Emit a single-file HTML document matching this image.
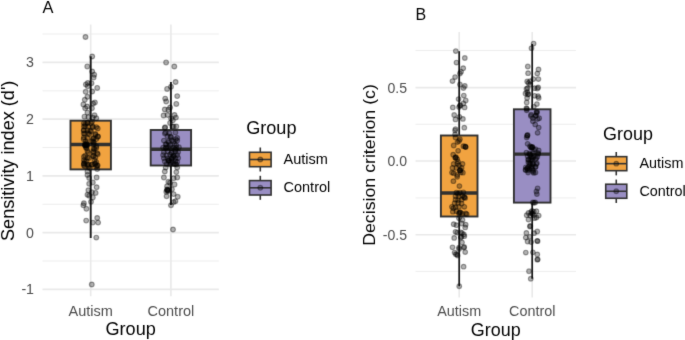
<!DOCTYPE html>
<html><head><meta charset="utf-8"><title>Figure</title>
<style>
html,body{margin:0;padding:0;background:#fff;}
body{width:685px;height:340px;overflow:hidden;}
svg{display:block;font-family:"Liberation Sans",Arial,sans-serif;}
</style></head><body>
<svg width="685" height="340" viewBox="0 0 685 340">
<defs><filter id="soft" x="0" y="0" width="685" height="340" filterUnits="userSpaceOnUse" color-interpolation-filters="sRGB"><feConvolveMatrix order="3" kernelMatrix="0.015 0.07 0.015 0.07 0.6600 0.07 0.015 0.07 0.015" edgeMode="duplicate" preserveAlpha="true"/></filter></defs>
<rect width="685" height="340" fill="#fff"/>
<g filter="url(#soft)">
<rect width="685" height="340" fill="#fff"/>
<g id="panelA">
<line x1="42.5" x2="218.8" y1="34.0" y2="34.0" stroke="#e9e9e9" stroke-width="0.80"/>
<line x1="42.5" x2="218.8" y1="90.8" y2="90.8" stroke="#e9e9e9" stroke-width="0.80"/>
<line x1="42.5" x2="218.8" y1="147.5" y2="147.5" stroke="#e9e9e9" stroke-width="0.80"/>
<line x1="42.5" x2="218.8" y1="204.3" y2="204.3" stroke="#e9e9e9" stroke-width="0.80"/>
<line x1="42.5" x2="218.8" y1="261.0" y2="261.0" stroke="#e9e9e9" stroke-width="0.80"/>
<line x1="42.5" x2="218.8" y1="62.4" y2="62.4" stroke="#e9e9e9" stroke-width="1.60"/>
<line x1="42.5" x2="218.8" y1="119.15" y2="119.15" stroke="#e9e9e9" stroke-width="1.60"/>
<line x1="42.5" x2="218.8" y1="175.9" y2="175.9" stroke="#e9e9e9" stroke-width="1.60"/>
<line x1="42.5" x2="218.8" y1="232.65" y2="232.65" stroke="#e9e9e9" stroke-width="1.60"/>
<line x1="42.5" x2="218.8" y1="289.4" y2="289.4" stroke="#e9e9e9" stroke-width="1.60"/>
<line x1="90.7" x2="90.7" y1="24.5" y2="296.2" stroke="#e9e9e9" stroke-width="1.60"/>
<line x1="170.9" x2="170.9" y1="24.5" y2="296.2" stroke="#e9e9e9" stroke-width="1.60"/>
<line x1="90.7" x2="90.7" y1="56.3" y2="120.7" stroke="#1a1a1a" stroke-width="1.9"/>
<line x1="90.7" x2="90.7" y1="169.4" y2="238" stroke="#1a1a1a" stroke-width="1.9"/>
<rect x="70.5" y="120.7" width="40.4" height="48.70" fill="#f1a340" stroke="#323232" stroke-width="1.9"/>
<line x1="70.5" x2="110.9" y1="144.5" y2="144.5" stroke="#303030" stroke-width="3.4"/>
<line x1="170.9" x2="170.9" y1="82" y2="130" stroke="#1a1a1a" stroke-width="1.9"/>
<line x1="170.9" x2="170.9" y1="165.5" y2="205" stroke="#1a1a1a" stroke-width="1.9"/>
<rect x="150.70000000000002" y="130" width="40.4" height="35.50" fill="#998ec3" stroke="#323232" stroke-width="1.9"/>
<line x1="150.70000000000002" x2="191.1" y1="149.3" y2="149.3" stroke="#303030" stroke-width="3.4"/>
<g fill="#000" fill-opacity="0.3" stroke="#000" stroke-opacity="0.36" stroke-width="1.15">
<circle cx="85.5" cy="37" r="2.40"/>
<circle cx="92.2" cy="56.5" r="2.40"/>
<circle cx="87.3" cy="66.4" r="2.40"/>
<circle cx="92.2" cy="71.5" r="2.40"/>
<circle cx="94.2" cy="74.7" r="2.40"/>
<circle cx="93.6" cy="77.4" r="2.40"/>
<circle cx="87.8" cy="83" r="2.40"/>
<circle cx="85.9" cy="84.4" r="2.40"/>
<circle cx="91.5" cy="83.2" r="2.40"/>
<circle cx="87.8" cy="86.2" r="2.40"/>
<circle cx="97.2" cy="87.9" r="2.40"/>
<circle cx="85.7" cy="91.8" r="2.40"/>
<circle cx="92.2" cy="91.5" r="2.40"/>
<circle cx="87.5" cy="96.8" r="2.40"/>
<circle cx="84.8" cy="99.8" r="2.40"/>
<circle cx="94.9" cy="102.4" r="2.40"/>
<circle cx="93.1" cy="103.5" r="2.40"/>
<circle cx="83.4" cy="104.4" r="2.40"/>
<circle cx="87.1" cy="106.5" r="2.40"/>
<circle cx="85.2" cy="108.2" r="2.40"/>
<circle cx="91.9" cy="108.2" r="2.40"/>
<circle cx="87.5" cy="112.6" r="2.40"/>
<circle cx="94.5" cy="115.3" r="2.40"/>
<circle cx="84.5" cy="116.7" r="2.40"/>
<circle cx="88.4" cy="117.1" r="2.40"/>
<circle cx="92.8" cy="117.6" r="2.40"/>
<circle cx="96.3" cy="118.3" r="2.40"/>
<circle cx="83.9" cy="123.2" r="2.40"/>
<circle cx="87.5" cy="122.9" r="2.40"/>
<circle cx="91" cy="123.2" r="2.40"/>
<circle cx="83.9" cy="126.4" r="2.40"/>
<circle cx="88.4" cy="126.8" r="2.40"/>
<circle cx="92.8" cy="126.4" r="2.40"/>
<circle cx="96.3" cy="127.1" r="2.40"/>
<circle cx="83.9" cy="130.3" r="2.40"/>
<circle cx="87.5" cy="130.3" r="2.40"/>
<circle cx="91" cy="131.2" r="2.40"/>
<circle cx="84.8" cy="133.8" r="2.40"/>
<circle cx="89.2" cy="134.2" r="2.40"/>
<circle cx="95.4" cy="134.7" r="2.40"/>
<circle cx="98" cy="136.5" r="2.40"/>
<circle cx="83.9" cy="137.4" r="2.40"/>
<circle cx="87.5" cy="138.2" r="2.40"/>
<circle cx="93.6" cy="138.2" r="2.40"/>
<circle cx="96.3" cy="139.1" r="2.40"/>
<circle cx="85.7" cy="141.2" r="2.40"/>
<circle cx="91.9" cy="141.2" r="2.40"/>
<circle cx="84.8" cy="144.4" r="2.40"/>
<circle cx="87.5" cy="144.9" r="2.40"/>
<circle cx="93.6" cy="144.4" r="2.40"/>
<circle cx="85.5" cy="145.5" r="2.40"/>
<circle cx="86.5" cy="143.5" r="2.40"/>
<circle cx="86.6" cy="147.9" r="2.40"/>
<circle cx="93.6" cy="148.8" r="2.40"/>
<circle cx="96.3" cy="147.9" r="2.40"/>
<circle cx="87.5" cy="150.9" r="2.40"/>
<circle cx="93.6" cy="152.4" r="2.40"/>
<circle cx="97.2" cy="153.2" r="2.40"/>
<circle cx="83.9" cy="156.8" r="2.40"/>
<circle cx="87.5" cy="157.6" r="2.40"/>
<circle cx="93.6" cy="155.9" r="2.40"/>
<circle cx="95.4" cy="157.6" r="2.40"/>
<circle cx="83.9" cy="160.3" r="2.40"/>
<circle cx="86.6" cy="161.2" r="2.40"/>
<circle cx="94.5" cy="160.3" r="2.40"/>
<circle cx="96.3" cy="162.1" r="2.40"/>
<circle cx="83.9" cy="163.8" r="2.40"/>
<circle cx="87.5" cy="164.7" r="2.40"/>
<circle cx="91.9" cy="164.7" r="2.40"/>
<circle cx="95.4" cy="163.8" r="2.40"/>
<circle cx="97.2" cy="165.6" r="2.40"/>
<circle cx="84.8" cy="166.5" r="2.40"/>
<circle cx="88.4" cy="166.8" r="2.40"/>
<circle cx="96.3" cy="166.5" r="2.40"/>
<circle cx="97.2" cy="169.1" r="2.40"/>
<circle cx="87.5" cy="171.4" r="2.40"/>
<circle cx="87.5" cy="174.9" r="2.40"/>
<circle cx="96.6" cy="177.4" r="2.40"/>
<circle cx="89.2" cy="177.9" r="2.40"/>
<circle cx="92.8" cy="182.4" r="2.40"/>
<circle cx="89.2" cy="183.8" r="2.40"/>
<circle cx="96.6" cy="187.2" r="2.40"/>
<circle cx="88.4" cy="190.3" r="2.40"/>
<circle cx="95.6" cy="192.9" r="2.40"/>
<circle cx="91.9" cy="192.3" r="2.40"/>
<circle cx="87.5" cy="194.7" r="2.40"/>
<circle cx="89.2" cy="195.8" r="2.40"/>
<circle cx="92.8" cy="197.4" r="2.40"/>
<circle cx="91" cy="201.8" r="2.40"/>
<circle cx="83.9" cy="203.2" r="2.40"/>
<circle cx="83.4" cy="205.3" r="2.40"/>
<circle cx="86.4" cy="208.8" r="2.40"/>
<circle cx="97.2" cy="218" r="2.40"/>
<circle cx="86.2" cy="220.6" r="2.40"/>
<circle cx="92.8" cy="222.6" r="2.40"/>
<circle cx="98.1" cy="222.6" r="2.40"/>
<circle cx="96.3" cy="237.6" r="2.40"/>
<circle cx="91.75" cy="284.5" r="2.40"/>
<circle cx="166.1" cy="62.4" r="2.40"/>
<circle cx="174.3" cy="66.5" r="2.40"/>
<circle cx="175.6" cy="82" r="2.40"/>
<circle cx="171" cy="86.8" r="2.40"/>
<circle cx="167.1" cy="88.9" r="2.40"/>
<circle cx="177.2" cy="96.1" r="2.40"/>
<circle cx="165.2" cy="98.6" r="2.40"/>
<circle cx="166.2" cy="101.4" r="2.40"/>
<circle cx="176.3" cy="103.9" r="2.40"/>
<circle cx="170.1" cy="107.5" r="2.40"/>
<circle cx="164.8" cy="109.5" r="2.40"/>
<circle cx="168.4" cy="109.7" r="2.40"/>
<circle cx="163.6" cy="115.5" r="2.40"/>
<circle cx="167.5" cy="115" r="2.40"/>
<circle cx="174.5" cy="115" r="2.40"/>
<circle cx="175.9" cy="117.6" r="2.40"/>
<circle cx="172.8" cy="120.3" r="2.40"/>
<circle cx="170.1" cy="122.9" r="2.40"/>
<circle cx="176.3" cy="126.5" r="2.40"/>
<circle cx="164.8" cy="127.9" r="2.40"/>
<circle cx="173.6" cy="126.5" r="2.40"/>
<circle cx="165.7" cy="132.6" r="2.40"/>
<circle cx="169.2" cy="133.2" r="2.40"/>
<circle cx="175.4" cy="132.6" r="2.40"/>
<circle cx="167.5" cy="136.2" r="2.40"/>
<circle cx="171" cy="137.1" r="2.40"/>
<circle cx="177.2" cy="137.9" r="2.40"/>
<circle cx="163.9" cy="140.6" r="2.40"/>
<circle cx="168.4" cy="141.5" r="2.40"/>
<circle cx="173.6" cy="141.5" r="2.40"/>
<circle cx="177.2" cy="140.6" r="2.40"/>
<circle cx="165.7" cy="144.1" r="2.40"/>
<circle cx="170.1" cy="145" r="2.40"/>
<circle cx="174.5" cy="144.1" r="2.40"/>
<circle cx="163.1" cy="147.6" r="2.40"/>
<circle cx="165.7" cy="148" r="2.40"/>
<circle cx="168.4" cy="147.6" r="2.40"/>
<circle cx="171" cy="148" r="2.40"/>
<circle cx="173.6" cy="147.6" r="2.40"/>
<circle cx="176.3" cy="148" r="2.40"/>
<circle cx="178.9" cy="147.3" r="2.40"/>
<circle cx="163.9" cy="152.1" r="2.40"/>
<circle cx="167.5" cy="151.2" r="2.40"/>
<circle cx="171.9" cy="152.6" r="2.40"/>
<circle cx="175.4" cy="151.5" r="2.40"/>
<circle cx="178.1" cy="152.1" r="2.40"/>
<circle cx="163.1" cy="155.1" r="2.40"/>
<circle cx="166.6" cy="155.6" r="2.40"/>
<circle cx="170.1" cy="154.7" r="2.40"/>
<circle cx="173.6" cy="155.6" r="2.40"/>
<circle cx="177.2" cy="155.1" r="2.40"/>
<circle cx="163.9" cy="158.2" r="2.40"/>
<circle cx="167.5" cy="158.6" r="2.40"/>
<circle cx="171.9" cy="158.2" r="2.40"/>
<circle cx="175.4" cy="158.2" r="2.40"/>
<circle cx="178.1" cy="157.9" r="2.40"/>
<circle cx="164.8" cy="161.5" r="2.40"/>
<circle cx="168.4" cy="161" r="2.40"/>
<circle cx="171.9" cy="161.8" r="2.40"/>
<circle cx="175.4" cy="161.2" r="2.40"/>
<circle cx="177.2" cy="162" r="2.40"/>
<circle cx="166.6" cy="164" r="2.40"/>
<circle cx="170.1" cy="164.5" r="2.40"/>
<circle cx="173.6" cy="164" r="2.40"/>
<circle cx="176.3" cy="164.5" r="2.40"/>
<circle cx="172.8" cy="157" r="2.40"/>
<circle cx="173.6" cy="156" r="2.40"/>
<circle cx="171.5" cy="158.9" r="2.40"/>
<circle cx="165.7" cy="167.6" r="2.40"/>
<circle cx="177.2" cy="167.6" r="2.40"/>
<circle cx="164.8" cy="171.5" r="2.40"/>
<circle cx="176.3" cy="172.1" r="2.40"/>
<circle cx="163.9" cy="177.4" r="2.40"/>
<circle cx="177.2" cy="177.4" r="2.40"/>
<circle cx="173.6" cy="178.2" r="2.40"/>
<circle cx="168.4" cy="181.8" r="2.40"/>
<circle cx="170.1" cy="182.6" r="2.40"/>
<circle cx="174.5" cy="184.4" r="2.40"/>
<circle cx="167.1" cy="186.2" r="2.40"/>
<circle cx="167.5" cy="190.2" r="2.40"/>
<circle cx="168.4" cy="190.9" r="2.40"/>
<circle cx="167" cy="189.5" r="2.40"/>
<circle cx="171.9" cy="189.2" r="2.40"/>
<circle cx="173.6" cy="194.1" r="2.40"/>
<circle cx="166.6" cy="196.2" r="2.40"/>
<circle cx="177.7" cy="196.8" r="2.40"/>
<circle cx="175.4" cy="201.2" r="2.40"/>
<circle cx="173.6" cy="202.1" r="2.40"/>
<circle cx="171" cy="205.2" r="2.40"/>
<circle cx="173" cy="229.5" r="2.40"/>
<circle cx="85.2" cy="124.1" r="2.40"/>
<circle cx="87.5" cy="122.7" r="2.40"/>
<circle cx="92.0" cy="121.7" r="2.40"/>
<circle cx="85.1" cy="126.2" r="2.40"/>
<circle cx="92.6" cy="127.2" r="2.40"/>
<circle cx="97.7" cy="128.5" r="2.40"/>
<circle cx="83.7" cy="130.4" r="2.40"/>
<circle cx="90.0" cy="130.9" r="2.40"/>
<circle cx="83.8" cy="133.6" r="2.40"/>
<circle cx="88.2" cy="133.2" r="2.40"/>
<circle cx="95.3" cy="133.9" r="2.40"/>
<circle cx="97.7" cy="136.7" r="2.40"/>
<circle cx="83.7" cy="139.2" r="2.40"/>
<circle cx="93.0" cy="139.0" r="2.40"/>
<circle cx="93.1" cy="141.8" r="2.40"/>
<circle cx="85.1" cy="145.8" r="2.40"/>
<circle cx="93.9" cy="142.7" r="2.40"/>
<circle cx="86.6" cy="145.2" r="2.40"/>
<circle cx="86.7" cy="144.2" r="2.40"/>
<circle cx="86.1" cy="147.7" r="2.40"/>
<circle cx="94.6" cy="148.9" r="2.40"/>
<circle cx="96.3" cy="146.2" r="2.40"/>
<circle cx="88.2" cy="152.6" r="2.40"/>
<circle cx="93.2" cy="151.2" r="2.40"/>
<circle cx="97.7" cy="154.2" r="2.40"/>
<circle cx="85.2" cy="155.8" r="2.40"/>
<circle cx="89.1" cy="157.9" r="2.40"/>
<circle cx="92.8" cy="156.1" r="2.40"/>
<circle cx="84.9" cy="161.5" r="2.40"/>
<circle cx="84.1" cy="163.5" r="2.40"/>
<circle cx="88.8" cy="165.0" r="2.40"/>
<circle cx="91.9" cy="164.6" r="2.40"/>
<circle cx="94.8" cy="163.9" r="2.40"/>
<circle cx="97.6" cy="165.4" r="2.40"/>
<circle cx="83.8" cy="165.3" r="2.40"/>
<circle cx="89.7" cy="167.9" r="2.40"/>
<circle cx="171.1" cy="118.6" r="2.40"/>
<circle cx="165.2" cy="127.3" r="2.40"/>
<circle cx="172.4" cy="126.6" r="2.40"/>
<circle cx="164.9" cy="133.4" r="2.40"/>
<circle cx="170.6" cy="136.8" r="2.40"/>
<circle cx="175.8" cy="139.3" r="2.40"/>
<circle cx="168.8" cy="142.6" r="2.40"/>
<circle cx="171.9" cy="140.2" r="2.40"/>
<circle cx="166.4" cy="144.7" r="2.40"/>
<circle cx="176.2" cy="145.2" r="2.40"/>
<circle cx="166.2" cy="147.6" r="2.40"/>
<circle cx="175.6" cy="149.7" r="2.40"/>
<circle cx="171.5" cy="153.0" r="2.40"/>
<circle cx="168.8" cy="160.3" r="2.40"/>
<circle cx="169.0" cy="160.8" r="2.40"/>
<circle cx="170.5" cy="162.4" r="2.40"/>
<circle cx="175.2" cy="163.9" r="2.40"/>
<circle cx="166.3" cy="191.7" r="2.40"/>
<circle cx="167.3" cy="190.4" r="2.40"/>
<circle cx="168.0" cy="189.8" r="2.40"/>
<circle cx="85.2" cy="144.8" r="2.40"/>
<circle cx="86.0" cy="145.6" r="2.40"/>
</g>
<g class="g" font-size="14.50" fill="#4d4d4d">
<text x="34.0" y="67.35" text-anchor="end" font-size="14.20">3</text>
<text x="34.0" y="124.10" text-anchor="end" font-size="14.20">2</text>
<text x="34.0" y="180.85" text-anchor="end" font-size="14.20">1</text>
<text x="34.0" y="237.60" text-anchor="end" font-size="14.20">0</text>
<text x="34.0" y="294.35" text-anchor="end" font-size="14.20">-1</text>
<text x="90.7" y="316.0" text-anchor="middle">Autism</text>
<text x="170.9" y="316.0" text-anchor="middle">Control</text>
</g>
<g class="k" font-size="18.10" fill="#000">
<text x="130.65" y="335.2" text-anchor="middle">Group</text>
<text transform="translate(13.5,160.8) rotate(-90) scale(1,1)" text-anchor="middle" font-size="18.1">Sensitivity index (d')</text>
<text x="246.2" y="134.2">Group</text>
</g>
<text class="k" x="42.5" y="13" font-size="16.40" fill="#000">A</text>
<line x1="260.30" x2="260.30" y1="147.50" y2="171.50" stroke="#333" stroke-width="1.6"/>
<rect x="249.50" y="152.30" width="21.60" height="14.40" fill="#f1a340" stroke="#333" stroke-width="1.6"/>
<line x1="249.50" x2="271.10" y1="159.50" y2="159.50" stroke="#333" stroke-width="1.6"/>
<circle cx="260.30" cy="159.50" r="2.40" fill="#000" fill-opacity="0.3" stroke="#000" stroke-opacity="0.36" stroke-width="1.15"/>
<text class="k" x="283.50" y="164.10" font-size="14.50" fill="#000">Autism</text>
<line x1="260.30" x2="260.30" y1="175.80" y2="199.80" stroke="#333" stroke-width="1.6"/>
<rect x="249.50" y="180.60" width="21.60" height="14.40" fill="#998ec3" stroke="#333" stroke-width="1.6"/>
<line x1="249.50" x2="271.10" y1="187.80" y2="187.80" stroke="#333" stroke-width="1.6"/>
<circle cx="260.30" cy="187.80" r="2.40" fill="#000" fill-opacity="0.3" stroke="#000" stroke-opacity="0.36" stroke-width="1.15"/>
<text class="k" x="283.50" y="192.40" font-size="14.50" fill="#000">Control</text>
</g>
<g id="panelB">
<line x1="415.5" x2="576" y1="50.5" y2="50.5" stroke="#e9e9e9" stroke-width="0.78"/>
<line x1="415.5" x2="576" y1="124.3" y2="124.3" stroke="#e9e9e9" stroke-width="0.78"/>
<line x1="415.5" x2="576" y1="197.9" y2="197.9" stroke="#e9e9e9" stroke-width="0.78"/>
<line x1="415.5" x2="576" y1="271.4" y2="271.4" stroke="#e9e9e9" stroke-width="0.78"/>
<line x1="415.5" x2="576" y1="87.6" y2="87.6" stroke="#e9e9e9" stroke-width="1.56"/>
<line x1="415.5" x2="576" y1="161.05" y2="161.05" stroke="#e9e9e9" stroke-width="1.56"/>
<line x1="415.5" x2="576" y1="234.7" y2="234.7" stroke="#e9e9e9" stroke-width="1.56"/>
<line x1="459.2" x2="459.2" y1="32" y2="297.5" stroke="#e9e9e9" stroke-width="1.56"/>
<line x1="532.2" x2="532.2" y1="32" y2="297.5" stroke="#e9e9e9" stroke-width="1.56"/>
<line x1="459.2" x2="459.2" y1="51.2" y2="135.5" stroke="#1a1a1a" stroke-width="1.75"/>
<line x1="459.2" x2="459.2" y1="216.5" y2="286.2" stroke="#1a1a1a" stroke-width="1.75"/>
<rect x="440.9" y="135.5" width="36.6" height="81.00" fill="#f1a340" stroke="#323232" stroke-width="1.9"/>
<line x1="440.9" x2="477.5" y1="193" y2="193" stroke="#303030" stroke-width="3.4"/>
<line x1="532.2" x2="532.2" y1="44" y2="109.3" stroke="#1a1a1a" stroke-width="1.75"/>
<line x1="532.2" x2="532.2" y1="202.6" y2="278.7" stroke="#1a1a1a" stroke-width="1.75"/>
<rect x="513.9000000000001" y="109.3" width="36.6" height="93.30" fill="#998ec3" stroke="#323232" stroke-width="1.9"/>
<line x1="513.9000000000001" x2="550.5" y1="154.1" y2="154.1" stroke="#303030" stroke-width="3.4"/>
<g fill="#000" fill-opacity="0.3" stroke="#000" stroke-opacity="0.36" stroke-width="1.15">
<circle cx="455.8" cy="51.1" r="2.34"/>
<circle cx="464.8" cy="58" r="2.34"/>
<circle cx="456.5" cy="62.6" r="2.34"/>
<circle cx="463.2" cy="68.2" r="2.34"/>
<circle cx="461.1" cy="71.8" r="2.34"/>
<circle cx="459.9" cy="73.5" r="2.34"/>
<circle cx="455.1" cy="77.1" r="2.34"/>
<circle cx="452.5" cy="81.1" r="2.34"/>
<circle cx="459.9" cy="84.5" r="2.34"/>
<circle cx="464.8" cy="85.9" r="2.34"/>
<circle cx="463.4" cy="88" r="2.34"/>
<circle cx="463.8" cy="95.6" r="2.34"/>
<circle cx="458.6" cy="99.1" r="2.34"/>
<circle cx="465.7" cy="100.5" r="2.34"/>
<circle cx="463.4" cy="103.5" r="2.34"/>
<circle cx="459.9" cy="105.8" r="2.34"/>
<circle cx="460.3" cy="105.2" r="2.34"/>
<circle cx="459" cy="107.1" r="2.34"/>
<circle cx="452.8" cy="107.4" r="2.34"/>
<circle cx="464.6" cy="107.4" r="2.34"/>
<circle cx="454.2" cy="115" r="2.34"/>
<circle cx="459.4" cy="116.8" r="2.34"/>
<circle cx="462.9" cy="118.9" r="2.34"/>
<circle cx="455.5" cy="119.4" r="2.34"/>
<circle cx="464.3" cy="127.7" r="2.34"/>
<circle cx="455.5" cy="129.1" r="2.34"/>
<circle cx="455.1" cy="130.5" r="2.34"/>
<circle cx="455.1" cy="134.4" r="2.34"/>
<circle cx="455.5" cy="137.4" r="2.34"/>
<circle cx="459.9" cy="139.2" r="2.34"/>
<circle cx="459" cy="140.9" r="2.34"/>
<circle cx="453.7" cy="145.5" r="2.34"/>
<circle cx="463.4" cy="146.2" r="2.34"/>
<circle cx="465.7" cy="147.1" r="2.34"/>
<circle cx="465.2" cy="146.5" r="2.34"/>
<circle cx="458.1" cy="150.8" r="2.34"/>
<circle cx="453.2" cy="154.7" r="2.34"/>
<circle cx="455.5" cy="157.9" r="2.34"/>
<circle cx="456" cy="157.2" r="2.34"/>
<circle cx="457.2" cy="159.1" r="2.34"/>
<circle cx="458.1" cy="161.8" r="2.34"/>
<circle cx="453.7" cy="163.9" r="2.34"/>
<circle cx="462.5" cy="163.9" r="2.34"/>
<circle cx="459" cy="165.3" r="2.34"/>
<circle cx="452.5" cy="167.9" r="2.34"/>
<circle cx="456.4" cy="167.9" r="2.34"/>
<circle cx="461.6" cy="167.9" r="2.34"/>
<circle cx="459.9" cy="170.6" r="2.34"/>
<circle cx="460.3" cy="170" r="2.34"/>
<circle cx="460.8" cy="172.4" r="2.34"/>
<circle cx="453.7" cy="173.2" r="2.34"/>
<circle cx="457.2" cy="175" r="2.34"/>
<circle cx="462.9" cy="172.7" r="2.34"/>
<circle cx="453.4" cy="181.2" r="2.34"/>
<circle cx="459.4" cy="186.1" r="2.34"/>
<circle cx="456.4" cy="192.6" r="2.34"/>
<circle cx="459.9" cy="192.6" r="2.34"/>
<circle cx="463.4" cy="192.3" r="2.34"/>
<circle cx="455.5" cy="196.2" r="2.34"/>
<circle cx="459" cy="196.5" r="2.34"/>
<circle cx="462.5" cy="195.8" r="2.34"/>
<circle cx="464.3" cy="197.1" r="2.34"/>
<circle cx="455.5" cy="199.7" r="2.34"/>
<circle cx="458.1" cy="200.1" r="2.34"/>
<circle cx="461.6" cy="199.7" r="2.34"/>
<circle cx="454.6" cy="203.2" r="2.34"/>
<circle cx="458.1" cy="202.9" r="2.34"/>
<circle cx="461.6" cy="203.6" r="2.34"/>
<circle cx="451.9" cy="206.8" r="2.34"/>
<circle cx="455.5" cy="207.1" r="2.34"/>
<circle cx="459" cy="206.8" r="2.34"/>
<circle cx="464.3" cy="206.8" r="2.34"/>
<circle cx="452.8" cy="211.7" r="2.34"/>
<circle cx="456.4" cy="211.2" r="2.34"/>
<circle cx="459.9" cy="212.1" r="2.34"/>
<circle cx="459" cy="213.5" r="2.34"/>
<circle cx="462.5" cy="213.8" r="2.34"/>
<circle cx="465.7" cy="213.5" r="2.34"/>
<circle cx="459" cy="218.2" r="2.34"/>
<circle cx="462.5" cy="219.9" r="2.34"/>
<circle cx="453.7" cy="224.2" r="2.34"/>
<circle cx="456.4" cy="225.2" r="2.34"/>
<circle cx="461.6" cy="223.5" r="2.34"/>
<circle cx="465.7" cy="224.7" r="2.34"/>
<circle cx="465.2" cy="227.4" r="2.34"/>
<circle cx="455.5" cy="231.8" r="2.34"/>
<circle cx="457.2" cy="232.6" r="2.34"/>
<circle cx="460.8" cy="232.3" r="2.34"/>
<circle cx="463.9" cy="234.4" r="2.34"/>
<circle cx="464.3" cy="236.2" r="2.34"/>
<circle cx="454.2" cy="237.9" r="2.34"/>
<circle cx="460.8" cy="237.6" r="2.34"/>
<circle cx="462" cy="242.4" r="2.34"/>
<circle cx="452.5" cy="247.3" r="2.34"/>
<circle cx="459" cy="247.6" r="2.34"/>
<circle cx="463.9" cy="247.6" r="2.34"/>
<circle cx="464.2" cy="247" r="2.34"/>
<circle cx="465.2" cy="252.1" r="2.34"/>
<circle cx="454.6" cy="252.6" r="2.34"/>
<circle cx="455.8" cy="254.2" r="2.34"/>
<circle cx="457.6" cy="255.6" r="2.34"/>
<circle cx="463.6" cy="266.7" r="2.34"/>
<circle cx="459.25" cy="286.25" r="2.34"/>
<circle cx="533.6" cy="43.6" r="2.34"/>
<circle cx="531.5" cy="48.2" r="2.34"/>
<circle cx="527.8" cy="66.5" r="2.34"/>
<circle cx="538.5" cy="69.4" r="2.34"/>
<circle cx="528.1" cy="73.2" r="2.34"/>
<circle cx="537.3" cy="73.6" r="2.34"/>
<circle cx="533.4" cy="79.1" r="2.34"/>
<circle cx="538.4" cy="79.1" r="2.34"/>
<circle cx="527.2" cy="81.5" r="2.34"/>
<circle cx="528.5" cy="82.9" r="2.34"/>
<circle cx="530.2" cy="84.7" r="2.34"/>
<circle cx="538.2" cy="87.4" r="2.34"/>
<circle cx="527.6" cy="88.2" r="2.34"/>
<circle cx="534.6" cy="88.2" r="2.34"/>
<circle cx="525.5" cy="93.5" r="2.34"/>
<circle cx="528.5" cy="94.1" r="2.34"/>
<circle cx="534.6" cy="95.8" r="2.34"/>
<circle cx="538.7" cy="97.9" r="2.34"/>
<circle cx="527.1" cy="97.9" r="2.34"/>
<circle cx="526.7" cy="102.4" r="2.34"/>
<circle cx="536.9" cy="104.1" r="2.34"/>
<circle cx="533.8" cy="106.8" r="2.34"/>
<circle cx="526.4" cy="108.2" r="2.34"/>
<circle cx="526.9" cy="108.8" r="2.34"/>
<circle cx="526.7" cy="110.3" r="2.34"/>
<circle cx="536.9" cy="112.9" r="2.34"/>
<circle cx="536.4" cy="112.3" r="2.34"/>
<circle cx="531.1" cy="114.7" r="2.34"/>
<circle cx="535.5" cy="115.9" r="2.34"/>
<circle cx="532.9" cy="118.2" r="2.34"/>
<circle cx="537.6" cy="119.1" r="2.34"/>
<circle cx="532.9" cy="121.2" r="2.34"/>
<circle cx="535.2" cy="124.4" r="2.34"/>
<circle cx="538.7" cy="127.6" r="2.34"/>
<circle cx="537.6" cy="132.8" r="2.34"/>
<circle cx="527.2" cy="135.5" r="2.34"/>
<circle cx="527.6" cy="135" r="2.34"/>
<circle cx="526.7" cy="137.6" r="2.34"/>
<circle cx="527.6" cy="143.8" r="2.34"/>
<circle cx="532" cy="147.4" r="2.34"/>
<circle cx="532.4" cy="147" r="2.34"/>
<circle cx="531.6" cy="147.9" r="2.34"/>
<circle cx="535.5" cy="149.1" r="2.34"/>
<circle cx="538.7" cy="150.4" r="2.34"/>
<circle cx="526.4" cy="152.6" r="2.34"/>
<circle cx="529.4" cy="153.5" r="2.34"/>
<circle cx="532.9" cy="153.2" r="2.34"/>
<circle cx="538.2" cy="153.9" r="2.34"/>
<circle cx="527.6" cy="156.2" r="2.34"/>
<circle cx="531.1" cy="157.1" r="2.34"/>
<circle cx="533.8" cy="156.2" r="2.34"/>
<circle cx="537.3" cy="156.7" r="2.34"/>
<circle cx="528.5" cy="159.7" r="2.34"/>
<circle cx="532" cy="160.2" r="2.34"/>
<circle cx="535.5" cy="159.2" r="2.34"/>
<circle cx="529.4" cy="163.2" r="2.34"/>
<circle cx="532.9" cy="163.8" r="2.34"/>
<circle cx="536.4" cy="164.1" r="2.34"/>
<circle cx="525.8" cy="167.3" r="2.34"/>
<circle cx="528.5" cy="166.8" r="2.34"/>
<circle cx="532" cy="166.2" r="2.34"/>
<circle cx="535.5" cy="166.8" r="2.34"/>
<circle cx="525.8" cy="169.8" r="2.34"/>
<circle cx="529.4" cy="169.4" r="2.34"/>
<circle cx="532.9" cy="170.3" r="2.34"/>
<circle cx="528.1" cy="172.6" r="2.34"/>
<circle cx="533.8" cy="172.9" r="2.34"/>
<circle cx="530" cy="165" r="2.34"/>
<circle cx="531" cy="168" r="2.34"/>
<circle cx="527.5" cy="168.5" r="2.34"/>
<circle cx="533" cy="158" r="2.34"/>
<circle cx="530.5" cy="155" r="2.34"/>
<circle cx="537.6" cy="188.3" r="2.34"/>
<circle cx="536.4" cy="191.5" r="2.34"/>
<circle cx="536.9" cy="194.1" r="2.34"/>
<circle cx="532.9" cy="202.4" r="2.34"/>
<circle cx="535.2" cy="202.4" r="2.34"/>
<circle cx="534" cy="202.8" r="2.34"/>
<circle cx="528.5" cy="212.9" r="2.34"/>
<circle cx="531.1" cy="212.1" r="2.34"/>
<circle cx="533.8" cy="211.7" r="2.34"/>
<circle cx="536.4" cy="211.2" r="2.34"/>
<circle cx="538.7" cy="215.6" r="2.34"/>
<circle cx="526.7" cy="215.2" r="2.34"/>
<circle cx="530.2" cy="215.6" r="2.34"/>
<circle cx="533.8" cy="215.2" r="2.34"/>
<circle cx="536.4" cy="217.4" r="2.34"/>
<circle cx="528.5" cy="219.5" r="2.34"/>
<circle cx="534.6" cy="218.2" r="2.34"/>
<circle cx="532" cy="213.5" r="2.34"/>
<circle cx="529.9" cy="226.5" r="2.34"/>
<circle cx="530.3" cy="226" r="2.34"/>
<circle cx="537.3" cy="231.5" r="2.34"/>
<circle cx="526.4" cy="232.9" r="2.34"/>
<circle cx="534.1" cy="233.2" r="2.34"/>
<circle cx="529.9" cy="236.8" r="2.34"/>
<circle cx="525.8" cy="237.6" r="2.34"/>
<circle cx="527.6" cy="241.5" r="2.34"/>
<circle cx="531.1" cy="242.1" r="2.34"/>
<circle cx="537.6" cy="241.2" r="2.34"/>
<circle cx="537.2" cy="240.8" r="2.34"/>
<circle cx="525.8" cy="252.6" r="2.34"/>
<circle cx="532.9" cy="252.3" r="2.34"/>
<circle cx="537.3" cy="254.4" r="2.34"/>
<circle cx="537.3" cy="259.7" r="2.34"/>
<circle cx="537.7" cy="259.3" r="2.34"/>
<circle cx="529" cy="271.25" r="2.34"/>
<circle cx="530.75" cy="278.75" r="2.34"/>
<circle cx="457.5" cy="142.1" r="2.34"/>
<circle cx="455.3" cy="157.5" r="2.34"/>
<circle cx="457.3" cy="163.6" r="2.34"/>
<circle cx="452.0" cy="172.6" r="2.34"/>
<circle cx="457.2" cy="176.8" r="2.34"/>
<circle cx="457.8" cy="193.7" r="2.34"/>
<circle cx="464.2" cy="197.5" r="2.34"/>
<circle cx="465.2" cy="197.9" r="2.34"/>
<circle cx="453.3" cy="208.2" r="2.34"/>
<circle cx="459.3" cy="212.8" r="2.34"/>
<circle cx="460.5" cy="212.7" r="2.34"/>
<circle cx="466.7" cy="214.2" r="2.34"/>
<circle cx="462.0" cy="233.1" r="2.34"/>
<circle cx="461.4" cy="236.8" r="2.34"/>
<circle cx="459.1" cy="248.9" r="2.34"/>
<circle cx="457.1" cy="254.4" r="2.34"/>
<circle cx="530.1" cy="81.2" r="2.34"/>
<circle cx="537.3" cy="88.5" r="2.34"/>
<circle cx="526.5" cy="88.9" r="2.34"/>
<circle cx="527.3" cy="92.2" r="2.34"/>
<circle cx="527.9" cy="94.5" r="2.34"/>
<circle cx="538.1" cy="96.2" r="2.34"/>
<circle cx="537.0" cy="111.6" r="2.34"/>
<circle cx="530.9" cy="116.0" r="2.34"/>
<circle cx="535.8" cy="115.5" r="2.34"/>
<circle cx="539.2" cy="118.2" r="2.34"/>
<circle cx="530.7" cy="147.2" r="2.34"/>
<circle cx="530.0" cy="146.2" r="2.34"/>
<circle cx="534.0" cy="149.6" r="2.34"/>
<circle cx="538.0" cy="153.0" r="2.34"/>
<circle cx="528.2" cy="159.8" r="2.34"/>
<circle cx="530.3" cy="159.9" r="2.34"/>
<circle cx="536.3" cy="158.3" r="2.34"/>
<circle cx="528.3" cy="162.2" r="2.34"/>
<circle cx="533.0" cy="163.7" r="2.34"/>
<circle cx="536.9" cy="163.1" r="2.34"/>
<circle cx="535.5" cy="167.1" r="2.34"/>
<circle cx="525.5" cy="169.9" r="2.34"/>
<circle cx="527.9" cy="170.5" r="2.34"/>
<circle cx="533.0" cy="171.8" r="2.34"/>
<circle cx="535.5" cy="172.4" r="2.34"/>
<circle cx="530.7" cy="163.6" r="2.34"/>
<circle cx="532.2" cy="168.6" r="2.34"/>
<circle cx="527.3" cy="168.2" r="2.34"/>
<circle cx="531.9" cy="158.3" r="2.34"/>
<circle cx="529.7" cy="154.5" r="2.34"/>
<circle cx="532.0" cy="211.0" r="2.34"/>
<circle cx="532.4" cy="213.7" r="2.34"/>
<circle cx="527.3" cy="135.8" r="2.34"/>
<circle cx="532.1" cy="147.2" r="2.34"/>
<circle cx="465.5" cy="146.8" r="2.34"/>
<circle cx="459.8" cy="170.3" r="2.34"/>
</g>
<g class="g" font-size="14.36" fill="#4d4d4d">
<text x="407.0" y="92.50" text-anchor="end" font-size="14.06">0.5</text>
<text x="407.0" y="165.95" text-anchor="end" font-size="14.06">0.0</text>
<text x="407.0" y="239.60" text-anchor="end" font-size="14.06">-0.5</text>
<text x="459.2" y="316.2" text-anchor="middle">Autism</text>
<text x="532.2" y="316.2" text-anchor="middle">Control</text>
</g>
<g class="k" font-size="17.92" fill="#000">
<text x="495.75" y="335.8" text-anchor="middle">Group</text>
<text transform="translate(375.3,165.0) rotate(-90) scale(1,0.94)" text-anchor="middle" font-size="17.75">Decision criterion (c)</text>
<text x="603.1" y="139.7">Group</text>
</g>
<text class="k" x="415.5" y="20" font-size="15.99" fill="#000">B</text>
<line x1="616.26" x2="616.26" y1="151.97" y2="175.37" stroke="#333" stroke-width="1.6"/>
<rect x="605.73" y="156.65" width="21.06" height="14.04" fill="#f1a340" stroke="#333" stroke-width="1.6"/>
<line x1="605.73" x2="626.79" y1="163.67" y2="163.67" stroke="#333" stroke-width="1.6"/>
<circle cx="616.26" cy="163.67" r="2.34" fill="#000" fill-opacity="0.3" stroke="#000" stroke-opacity="0.36" stroke-width="1.15"/>
<text class="k" x="639.48" y="168.15" font-size="14.36" fill="#000">Autism</text>
<line x1="616.26" x2="616.26" y1="179.56" y2="202.96" stroke="#333" stroke-width="1.6"/>
<rect x="605.73" y="184.24" width="21.06" height="14.04" fill="#998ec3" stroke="#333" stroke-width="1.6"/>
<line x1="605.73" x2="626.79" y1="191.26" y2="191.26" stroke="#333" stroke-width="1.6"/>
<circle cx="616.26" cy="191.26" r="2.34" fill="#000" fill-opacity="0.3" stroke="#000" stroke-opacity="0.36" stroke-width="1.15"/>
<text class="k" x="639.48" y="195.75" font-size="14.36" fill="#000">Control</text>
</g>
</g>
</svg>
</body></html>
